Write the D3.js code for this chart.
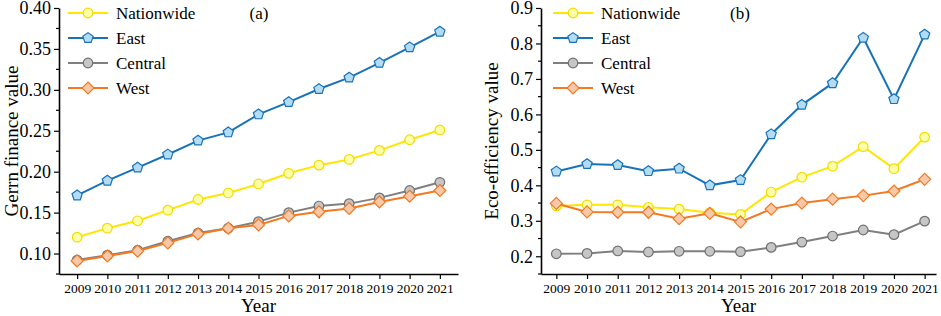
<!DOCTYPE html>
<html>
<head>
<meta charset="utf-8">
<script src="https://cdn.jsdelivr.net/npm/d3@7"></script>
<style>
  body { margin: 0; background: #fff; }
  svg text { font-family: "Liberation Serif", "Times New Roman", serif; fill: #000; }
</style>
</head>
<body>
<svg id="chart" width="941" height="316"></svg>
<script>
// ---------------------------------------------------------------
// data
let years = [2009, 2010, 2011, 2012, 2013, 2014, 2015, 2016, 2017, 2018, 2019, 2020, 2021];
let seriesNames = ["Nationwide", "East", "Central", "West"];

// panel (a): green finance
let financeNationwide = [0.120, 0.131, 0.140, 0.153, 0.166, 0.174, 0.185, 0.198, 0.208, 0.215, 0.226, 0.239, 0.251];
let financeEast       = [0.171, 0.189, 0.205, 0.221, 0.238, 0.248, 0.270, 0.285, 0.301, 0.315, 0.333, 0.352, 0.371];
let financeCentral    = [0.092, 0.098, 0.104, 0.115, 0.125, 0.131, 0.139, 0.150, 0.158, 0.161, 0.168, 0.177, 0.187];
let financeWest       = [0.091, 0.097, 0.103, 0.113, 0.124, 0.131, 0.135, 0.146, 0.151, 0.155, 0.163, 0.170, 0.177];

// panel (b): eco-efficiency
let ecoNationwide = [0.342, 0.345, 0.345, 0.338, 0.333, 0.323, 0.318, 0.381, 0.423, 0.454, 0.509, 0.447, 0.536];
let ecoEast       = [0.439, 0.460, 0.457, 0.440, 0.447, 0.400, 0.415, 0.544, 0.627, 0.688, 0.816, 0.643, 0.825];
let ecoCentral    = [0.207, 0.208, 0.215, 0.212, 0.214, 0.214, 0.213, 0.225, 0.240, 0.257, 0.274, 0.261, 0.299];
let ecoWest       = [0.349, 0.325, 0.324, 0.324, 0.306, 0.321, 0.297, 0.333, 0.350, 0.361, 0.371, 0.384, 0.417];

let financeTicks = [0.10, 0.15, 0.20, 0.25, 0.30, 0.35, 0.40];
let ecoTicks = [0.2, 0.3, 0.4, 0.5, 0.6, 0.7, 0.8, 0.9];

// ---------------------------------------------------------------
// styles per series
let styles = {
  Nationwide: { line: "#ffe600", fill: "#ffffa8", stroke: "#f2dc00", shape: "circle" },
  East:       { line: "#1872b8", fill: "#b3dcf3", stroke: "#1872b8", shape: "pentagon" },
  Central:    { line: "#7f7f7f", fill: "#c6c6c6", stroke: "#707070", shape: "circle" },
  West:       { line: "#f47920", fill: "#f7c9aa", stroke: "#f47920", shape: "diamond" }
};

function markerPath(shape, r) {
  if (shape === "circle") {
    return d3.symbol(d3.symbolCircle, Math.PI * r * r)();
  }
  let n = shape === "pentagon" ? 5 : 4;
  let rr = shape === "pentagon" ? r * 1.12 : r * 1.25;
  let pts = d3.range(n).map(function(i) {
    let a = -Math.PI / 2 + i * 2 * Math.PI / n;
    return [rr * Math.cos(a), rr * Math.sin(a)];
  });
  return "M" + pts.map(p => p.join(",")).join("L") + "Z";
}

let svg = d3.select("#chart");

function drawPanel(cfg) {
  let g = svg.append("g");
  let x = d3.scaleLinear().domain(cfg.xDomain).range(cfg.xRange);
  let y = d3.scaleLinear().domain(cfg.yDomain).range([274, 8]);

  // minor ticks on y (halfway between majors)
  let step = cfg.ticks[1] - cfg.ticks[0];
  let minors = cfg.ticks.map(t => t - step / 2).filter(t => t > cfg.yDomain[0]);
  g.selectAll(".minor").data(minors).enter().append("line")
    .attr("x1", cfg.xRange[0] - 3).attr("x2", cfg.xRange[0])
    .attr("y1", d => y(d)).attr("y2", d => y(d))
    .attr("stroke", "#000").attr("stroke-width", 1.2);

  // y axis
  let yAxis = g.append("g")
    .attr("transform", "translate(" + cfg.xRange[0] + ",0)")
    .call(d3.axisLeft(y).tickValues(cfg.ticks).tickFormat(d3.format(cfg.fmt)).tickSize(5).tickPadding(3).tickSizeOuter(0));
  yAxis.select(".domain").attr("stroke-width", 1.6);
  yAxis.selectAll(".tick line").attr("stroke-width", 1.2);
  yAxis.selectAll("text").style("font-size", "18px");

  // x axis
  let xAxis = g.append("g")
    .attr("transform", "translate(0,274)")
    .call(d3.axisBottom(x).tickValues(years).tickFormat(d3.format("d")).tickSize(5).tickPadding(4).tickSizeOuter(0));
  xAxis.select(".domain").attr("stroke-width", 1.6);
  xAxis.selectAll(".tick line").attr("stroke-width", 1.2);
  xAxis.selectAll("text").style("font-size", "13.5px");

  // titles
  g.append("text")
    .attr("x", (cfg.xRange[0] + cfg.xRange[1]) / 2).attr("y", 312)
    .attr("text-anchor", "middle").style("font-size", "19px")
    .text("Year");
  g.append("text")
    .attr("transform", "translate(" + cfg.titleX + "," + 141 + ") rotate(-90)")
    .attr("text-anchor", "middle").style("font-size", "19px")
    .text(cfg.title);
  g.append("text")
    .attr("x", cfg.tagX).attr("y", 19)
    .attr("text-anchor", "middle").style("font-size", "17px")
    .text(cfg.tag);

  // series
  let line = d3.line().x((d, i) => x(years[i])).y(d => y(d));
  seriesNames.forEach(function(name, k) {
    let st = styles[name];
    let vals = cfg.data[k];
    g.append("path")
      .attr("d", line(vals))
      .attr("fill", "none").attr("stroke", st.line).attr("stroke-width", 2);
    g.selectAll(".m" + k).data(vals).enter().append("path")
      .attr("transform", (d, i) => "translate(" + x(years[i]) + "," + y(d) + ")")
      .attr("d", markerPath(st.shape, 4.8))
      .attr("fill", st.fill).attr("stroke", st.stroke).attr("stroke-width", 1.2);
  });

  // legend
  let lg = g.append("g");
  seriesNames.forEach(function(name, k) {
    let st = styles[name];
    let ly = 13 + k * 25;
    lg.append("line")
      .attr("x1", cfg.legendX).attr("x2", cfg.legendX + 40)
      .attr("y1", ly).attr("y2", ly)
      .attr("stroke", st.line).attr("stroke-width", 2);
    lg.append("path")
      .attr("transform", "translate(" + (cfg.legendX + 20) + "," + ly + ")")
      .attr("d", markerPath(st.shape, 4.8))
      .attr("fill", st.fill).attr("stroke", st.stroke).attr("stroke-width", 1.2);
    lg.append("text")
      .attr("x", cfg.legendX + 48).attr("y", ly + 6)
      .style("font-size", "17px")
      .text(name);
  });
}

drawPanel({
  xDomain: [2008.4, 2021.6], xRange: [59, 458],
  yDomain: [0.075, 0.40], ticks: financeTicks, fmt: ".2f",
  data: [financeNationwide, financeEast, financeCentral, financeWest],
  title: "Gerrn finance value", titleX: 18, tag: "(a)", tagX: 259, legendX: 68
});

drawPanel({
  xDomain: [2008.5, 2021.37], xRange: [541, 936],
  yDomain: [0.15, 0.9], ticks: ecoTicks, fmt: ".1f",
  data: [ecoNationwide, ecoEast, ecoCentral, ecoWest],
  title: "Eco-efficiency value", titleX: 498, tag: "(b)", tagX: 740, legendX: 553
});
</script>
</body>
</html>
